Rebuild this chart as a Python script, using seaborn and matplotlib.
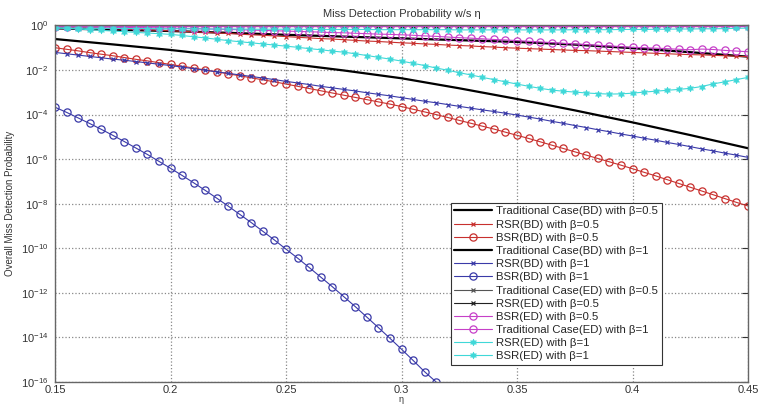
import numpy as np
import seaborn as sns
import matplotlib
matplotlib.use('Agg')
import matplotlib.pyplot as plt
from matplotlib.ticker import NullLocator

# eta sampling (markers every 0.005) and a coarser grid for the plain black lines
eta = np.linspace(0.15, 0.45, 61)
eta_coarse = np.linspace(0.15, 0.45, 13)

# log10 of the miss detection probability
trad_bd_05 = [-0.13, -0.19, -0.25, -0.33, -0.42, -0.50, -0.58, -0.66, -0.74, -0.86, -1.02, -1.20, -1.40]
trad_bd_1 = [-0.61, -0.85, -1.10, -1.39, -1.70, -2.02, -2.37, -2.82, -3.30, -3.81, -4.35, -4.92, -5.51]

rsr_bd_05 = [-0.06, -0.07, -0.09, -0.10, -0.12, -0.14, -0.16, -0.18, -0.20, -0.22, -0.24,
             -0.26, -0.29, -0.31, -0.34, -0.36, -0.39, -0.42, -0.44, -0.47, -0.50,
             -0.53, -0.56, -0.59, -0.61, -0.64, -0.67, -0.70, -0.72, -0.75, -0.78,
             -0.80, -0.83, -0.85, -0.88, -0.90, -0.92, -0.95, -0.97, -1.00, -1.02,
             -1.04, -1.06, -1.08, -1.10, -1.12, -1.13, -1.15, -1.17, -1.19, -1.21,
             -1.23, -1.25, -1.27, -1.29, -1.31, -1.32, -1.34, -1.36, -1.38, -1.40]

bsr_bd_05 = [-1.00, -1.07, -1.14, -1.22, -1.29, -1.36, -1.44, -1.52, -1.59, -1.67, -1.75,
             -1.83, -1.91, -2.00, -2.08, -2.17, -2.26, -2.35, -2.44, -2.53, -2.63,
             -2.73, -2.83, -2.93, -3.03, -3.13, -3.23, -3.33, -3.43, -3.53, -3.64,
             -3.76, -3.88, -4.00, -4.13, -4.26, -4.39, -4.52, -4.65, -4.79, -4.93,
             -5.07, -5.22, -5.37, -5.52, -5.67, -5.82, -5.97, -6.12, -6.27, -6.43,
             -6.59, -6.75, -6.92, -7.09, -7.26, -7.43, -7.60, -7.77, -7.94, -8.10]

rsr_bd_1 = [-1.21, -1.27, -1.33, -1.39, -1.45, -1.51, -1.56, -1.62, -1.68, -1.74, -1.80,
            -1.87, -1.94, -2.01, -2.08, -2.15, -2.22, -2.29, -2.36, -2.43, -2.51,
            -2.58, -2.65, -2.73, -2.80, -2.87, -2.94, -3.02, -3.09, -3.16, -3.24,
            -3.32, -3.40, -3.47, -3.55, -3.63, -3.71, -3.79, -3.86, -3.94, -4.02,
            -4.11, -4.20, -4.30, -4.39, -4.49, -4.58, -4.68, -4.77, -4.87, -4.96,
            -5.06, -5.15, -5.25, -5.34, -5.44, -5.54, -5.63, -5.73, -5.82, -5.92]

# only visible up to eta = 0.315
bsr_bd_1 = [-3.67, -3.90, -4.15, -4.40, -4.66, -4.93, -5.21, -5.50, -5.79, -6.10,
            -6.41, -6.73, -7.06, -7.40, -7.75, -8.11, -8.48, -8.85, -9.24, -9.63,
            -10.04, -10.44, -10.86, -11.29, -11.72, -12.17, -12.62, -13.09, -13.56, -14.04,
            -14.53, -15.03, -15.54, -16.0]

trad_ed_05 = [-0.02, -0.02, -0.02, -0.02, -0.02, -0.02, -0.02, -0.02, -0.02, -0.02, -0.02,
              -0.02, -0.02, -0.02, -0.02, -0.02, -0.02, -0.02, -0.02, -0.02, -0.02,
              -0.02, -0.02, -0.02, -0.02, -0.02, -0.02, -0.02, -0.02, -0.02, -0.02,
              -0.02, -0.02, -0.02, -0.02, -0.02, -0.02, -0.02, -0.02, -0.02, -0.02,
              -0.02, -0.02, -0.02, -0.02, -0.02, -0.02, -0.02, -0.02, -0.02, -0.02,
              -0.02, -0.02, -0.02, -0.02, -0.02, -0.02, -0.02, -0.02, -0.02, -0.02]

rsr_ed_05 = [-0.03, -0.03, -0.03, -0.03, -0.03, -0.03, -0.03, -0.03, -0.03, -0.03, -0.03,
             -0.03, -0.03, -0.03, -0.03, -0.03, -0.03, -0.03, -0.03, -0.03, -0.03,
             -0.03, -0.03, -0.03, -0.03, -0.03, -0.03, -0.03, -0.03, -0.03, -0.03,
             -0.03, -0.03, -0.03, -0.03, -0.03, -0.03, -0.03, -0.03, -0.03, -0.03,
             -0.03, -0.03, -0.03, -0.03, -0.03, -0.03, -0.03, -0.03, -0.03, -0.03,
             -0.03, -0.03, -0.03, -0.03, -0.03, -0.03, -0.03, -0.03, -0.03, -0.03]

bsr_ed_05 = [-0.03, -0.03, -0.03, -0.03, -0.03, -0.03, -0.03, -0.03, -0.03, -0.03, -0.03,
             -0.03, -0.03, -0.03, -0.03, -0.03, -0.03, -0.03, -0.03, -0.03, -0.03,
             -0.03, -0.03, -0.03, -0.03, -0.03, -0.03, -0.03, -0.03, -0.03, -0.03,
             -0.03, -0.03, -0.03, -0.03, -0.03, -0.03, -0.03, -0.03, -0.03, -0.03,
             -0.03, -0.03, -0.03, -0.03, -0.03, -0.03, -0.03, -0.03, -0.03, -0.03,
             -0.03, -0.03, -0.03, -0.03, -0.03, -0.03, -0.03, -0.03, -0.03, -0.03]

trad_ed_1 = [-0.05, -0.05, -0.06, -0.07, -0.07, -0.08, -0.09, -0.10, -0.10, -0.11, -0.12,
             -0.13, -0.14, -0.15, -0.17, -0.18, -0.19, -0.21, -0.22, -0.24, -0.25,
             -0.27, -0.28, -0.30, -0.32, -0.33, -0.35, -0.37, -0.39, -0.40, -0.42,
             -0.44, -0.47, -0.49, -0.52, -0.55, -0.57, -0.60, -0.63, -0.65, -0.68,
             -0.71, -0.74, -0.77, -0.80, -0.83, -0.86, -0.89, -0.92, -0.95, -0.98,
             -1.00, -1.02, -1.04, -1.07, -1.09, -1.06, -1.08, -1.12, -1.15, -1.18]

rsr_ed_1 = [-0.12, -0.12, -0.12, -0.13, -0.13, -0.13, -0.14, -0.14, -0.14, -0.15, -0.15,
            -0.15, -0.15, -0.16, -0.16, -0.16, -0.16, -0.17, -0.17, -0.17, -0.17,
            -0.17, -0.18, -0.18, -0.18, -0.18, -0.18, -0.18, -0.19, -0.19, -0.19,
            -0.19, -0.19, -0.19, -0.19, -0.20, -0.20, -0.20, -0.20, -0.20, -0.20,
            -0.20, -0.20, -0.20, -0.20, -0.19, -0.19, -0.19, -0.19, -0.18, -0.18,
            -0.18, -0.17, -0.17, -0.16, -0.16, -0.15, -0.15, -0.14, -0.13, -0.12]

bsr_ed_1 = [-0.10, -0.13, -0.16, -0.19, -0.22, -0.25, -0.28, -0.31, -0.34, -0.37, -0.40,
            -0.45, -0.51, -0.56, -0.62, -0.68, -0.73, -0.78, -0.83, -0.88, -0.93,
            -0.98, -1.04, -1.09, -1.15, -1.20, -1.27, -1.35, -1.43, -1.51, -1.60,
            -1.70, -1.80, -1.91, -2.01, -2.12, -2.22, -2.33, -2.43, -2.53, -2.63,
            -2.73, -2.82, -2.90, -2.95, -2.99, -3.03, -3.06, -3.08, -3.07, -3.04,
            -2.99, -2.95, -2.91, -2.87, -2.82, -2.74, -2.62, -2.53, -2.43, -2.33]

RED = '#c8302e'
BLUE = '#3a3aa8'
MAG = '#c640c8'
CYAN = '#40d8d8'

# (label, x, log10 values, color, marker, linewidth)
series = [
    ('Traditional Case(BD) with β=0.5', eta_coarse, trad_bd_05, 'black', None, 1.6),
    ('RSR(BD) with β=0.5', eta, rsr_bd_05, RED, 'x', 0.8),
    ('BSR(BD) with β=0.5', eta, bsr_bd_05, RED, 'o', 0.8),
    ('Traditional Case(BD) with β=1', eta_coarse, trad_bd_1, 'black', None, 1.6),
    ('RSR(BD) with β=1', eta, rsr_bd_1, BLUE, 'x', 0.8),
    ('BSR(BD) with β=1', eta[:len(bsr_bd_1)], bsr_bd_1, BLUE, 'o', 0.8),
    ('Traditional Case(ED) with β=0.5', eta, trad_ed_05, '#555555', 'x', 0.8),
    ('RSR(ED) with β=0.5', eta, rsr_ed_05, '#222222', 'x', 0.8),
    ('BSR(ED) with β=0.5', eta, bsr_ed_05, MAG, 'o', 0.8),
    ('Traditional Case(ED) with β=1', eta, trad_ed_1, MAG, 'o', 0.8),
    ('RSR(ED) with β=1', eta, rsr_ed_1, CYAN, (6, 1, 0), 0.8),
    ('BSR(ED) with β=1', eta, bsr_ed_1, CYAN, (6, 1, 0), 0.8),
]


def make_plot():
    sns.set_style('white')
    plt.rcParams['font.family'] = ['Liberation Sans', 'DejaVu Sans']

    fig = plt.figure(figsize=(7.59, 4.04), dpi=100)
    ax = fig.add_axes([0.0725, 0.0545, 0.913, 0.8825])
    ax.set_yscale('log')

    for label, x, logv, color, marker, lw in series:
        kw = dict(color=color, linewidth=lw, label=label)
        if marker is not None:
            # seaborn defaults to white marker edges, so set them explicitly
            kw.update(marker=marker, markeredgecolor=color)
            if marker == 'o':
                kw.update(markersize=5.2, markerfacecolor='none', markeredgewidth=0.9)
            elif marker == 'x':
                kw.update(markersize=3.5, markeredgewidth=0.9)
            else:
                kw.update(markersize=5, markerfacecolor=color, markeredgewidth=0.4)
        sns.lineplot(x=x, y=10.0 ** np.array(logv), ax=ax, **kw)

    ax.set_xlim(0.15, 0.45)
    ax.set_ylim(1e-16, 1)
    ax.set_xticks([0.15, 0.2, 0.25, 0.3, 0.35, 0.4, 0.45])
    ax.set_xticklabels(['0.15', '0.2', '0.25', '0.3', '0.35', '0.4', '0.45'])
    ax.set_yticks([10.0 ** k for k in range(-16, 1, 2)])
    ax.yaxis.set_minor_locator(NullLocator())
    ax.tick_params(direction='in', length=4, labelsize=8, colors='#333333',
                   top=True, right=True)
    ax.tick_params(axis='x', pad=2.5)
    ax.tick_params(axis='y', pad=5)
    ax.grid(True, linestyle=':', color='#888888', linewidth=0.9)
    for sp in ax.spines.values():
        sp.set_color('#666666')
        sp.set_linewidth(1.0)

    ax.set_title('Miss Detection Probability w/s η', fontsize=8, pad=6, color='#333333')
    ax.set_ylabel('Overall Miss Detection Probability', fontsize=7, labelpad=4, color='#333333')
    ax.set_xlabel('η', fontsize=6.5, color='#333333')
    # sit the eta label right at the bottom edge, under the 0.3 tick label
    ax.xaxis.set_label_coords(0.5, -0.0615)
    ax.xaxis.label.set_va('bottom')

    leg = ax.legend(loc='lower left', bbox_to_anchor=(0.571, 0.048), borderaxespad=0,
                    fontsize=8.2, frameon=True, fancybox=False, framealpha=1,
                    edgecolor='#333333', handlelength=3.3, labelspacing=0.28,
                    borderpad=0.3, handletextpad=0.4)
    leg.get_frame().set_linewidth(0.8)

    fig.savefig('out.png', dpi=100)


make_plot()
